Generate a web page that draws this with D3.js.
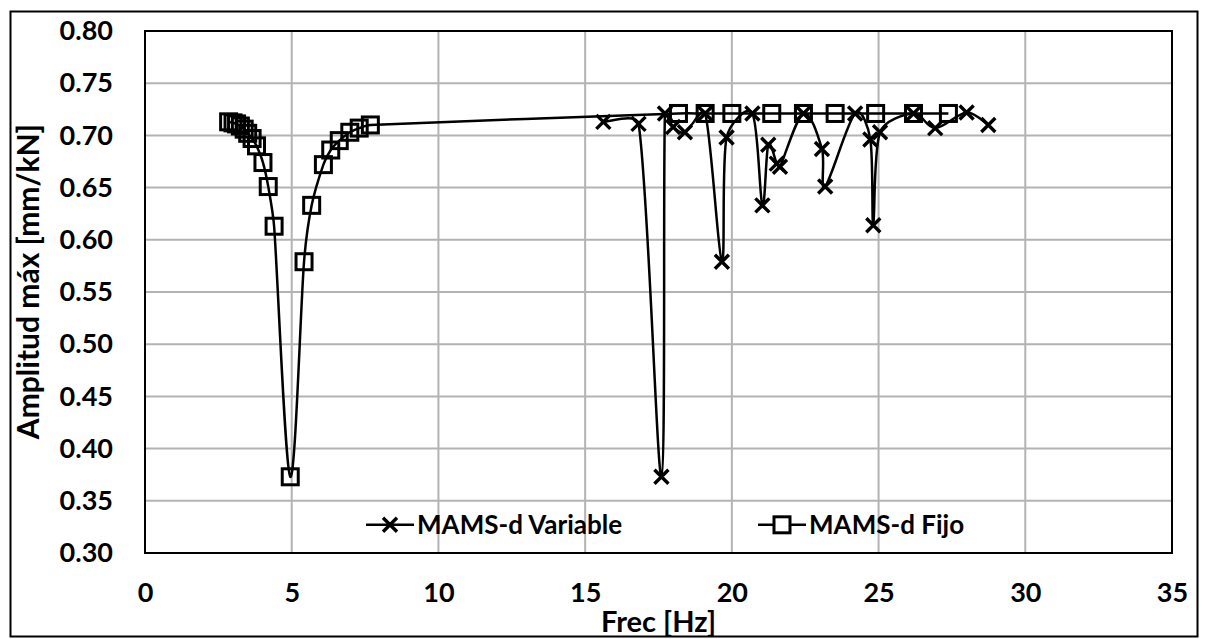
<!DOCTYPE html>
<html>
<head>
<meta charset="utf-8">
<script src="https://cdn.jsdelivr.net/npm/d3@7"></script>
<style>
  body { margin: 0; background: #fff; }
  text { font-family: Lato, "Open Sans", sans-serif; font-weight: bold; fill: #000; }
</style>
</head>
<body>
<div id="chart"></div>
<script>
// values
var fijoFrec = [2.85, 3.0, 3.12, 3.25, 3.38, 3.5, 3.65, 3.8, 4.02, 4.2, 4.4, 4.95, 5.42, 5.68, 6.08, 6.33, 6.62, 6.98, 7.3, 7.68,
                18.18, 19.09, 20.0, 21.36, 22.44, 23.52, 24.9, 26.19, 27.38];
var fijoAmp = [0.713, 0.712, 0.711, 0.709, 0.706, 0.702, 0.697, 0.690, 0.674, 0.651, 0.613, 0.373, 0.579, 0.633, 0.672, 0.686, 0.695, 0.703, 0.707, 0.710,
               0.721, 0.721, 0.721, 0.721, 0.721, 0.721, 0.721, 0.721, 0.721];

var varFrec = [15.62, 16.82, 17.60, 17.72, 18.0, 18.4, 19.09, 19.66, 19.82, 20.7, 21.04, 21.24, 21.53, 21.64, 22.44, 23.07, 23.18, 24.2,
               24.72, 24.82, 25.05, 26.19, 26.93, 28.0, 28.74];
var varAmp = [0.713, 0.711, 0.373, 0.721, 0.708, 0.703, 0.721, 0.579, 0.698, 0.721, 0.633, 0.691, 0.673, 0.670, 0.721, 0.687, 0.651, 0.721,
              0.696, 0.614, 0.703, 0.721, 0.707, 0.722, 0.710];

var xTicks = [0, 5, 10, 15, 20, 25, 30, 35];
var yTicks = [0.30, 0.35, 0.40, 0.45, 0.50, 0.55, 0.60, 0.65, 0.70, 0.75, 0.80];
var seriesNames = ["MAMS-d Variable", "MAMS-d Fijo"];

var W = 1208, H = 639;
var margin = {top: 31, right: 36, bottom: 86, left: 145};

// spreadsheet-like smoothing: bezier with tangent (next - prev)/6,
// control arm capped to a third of the segment so steep dips stay sharp
function curveSmooth(context) {
    var pts;
    function cap(t, len) {
        var m = Math.hypot(t[0], t[1]);
        var lim = len / 3;
        if (m > lim && m > 0) return [t[0] * lim / m, t[1] * lim / m];
        return t;
    }
    return {
        areaStart: function() {},
        areaEnd: function() {},
        lineStart: function() { pts = []; },
        point: function(px, py) { pts.push([+px, +py]); },
        lineEnd: function() {
            var n = pts.length;
            if (!n) return;
            context.moveTo(pts[0][0], pts[0][1]);
            var tan = pts.map(function(p, i) {
                var a = pts[Math.max(i - 1, 0)], b = pts[Math.min(i + 1, n - 1)];
                return [(b[0] - a[0]) / 6, (b[1] - a[1]) / 6];
            });
            for (var i = 0; i < n - 1; i++) {
                var p = pts[i], q = pts[i + 1];
                var len = Math.hypot(q[0] - p[0], q[1] - p[1]);
                var t1 = cap(tan[i], len), t2 = cap(tan[i + 1], len);
                context.bezierCurveTo(p[0] + t1[0], p[1] + t1[1], q[0] - t2[0], q[1] - t2[1], q[0], q[1]);
            }
        }
    };
}

var svg = d3.select("#chart").append("svg")
    .attr("width", W)
    .attr("height", H);

svg.append("rect")
    .attr("width", W).attr("height", H)
    .attr("fill", "#fff");

// outer chart border
svg.append("rect")
    .attr("x", 10.5).attr("y", 11.5)
    .attr("width", W - 21).attr("height", H - 14)
    .attr("fill", "none")
    .attr("stroke", "#000")
    .attr("stroke-width", 2);

var x = d3.scaleLinear().domain([0, 35]).range([margin.left, W - margin.right]);
var y = d3.scaleLinear().domain([0.30, 0.80]).range([H - margin.bottom, margin.top]);

// gridlines
svg.append("g")
    .selectAll("line.v")
    .data(xTicks.slice(1, -1))
    .enter().append("line")
    .attr("x1", d => x(d)).attr("x2", d => x(d))
    .attr("y1", y(0.30)).attr("y2", y(0.80))
    .attr("stroke", "#b3b3b3").attr("stroke-width", 2);

svg.append("g")
    .selectAll("line.h")
    .data(yTicks.slice(1, -1))
    .enter().append("line")
    .attr("x1", x(0)).attr("x2", x(35))
    .attr("y1", d => y(d)).attr("y2", d => y(d))
    .attr("stroke", "#b3b3b3").attr("stroke-width", 2);

// axes (labels only, no tick marks)
var xAxis = d3.axisBottom(x).tickValues(xTicks).tickSize(0).tickPadding(30).tickFormat(d3.format("d"));
var yAxis = d3.axisLeft(y).tickValues(yTicks).tickSize(0).tickPadding(32).tickFormat(d3.format(".2f"));

svg.append("g")
    .attr("transform", "translate(0," + y(0.30) + ")")
    .call(xAxis)
    .call(g => g.select(".domain").remove())
    .selectAll("text")
    .style("font-size", "27px");

svg.append("g")
    .attr("transform", "translate(" + x(0) + ",0)")
    .call(yAxis)
    .call(g => g.select(".domain").remove())
    .selectAll("text")
    .style("font-size", "27px");

// plot frame
svg.append("rect")
    .attr("x", x(0)).attr("y", y(0.80))
    .attr("width", x(35) - x(0)).attr("height", y(0.30) - y(0.80))
    .attr("fill", "none")
    .attr("stroke", "#000")
    .attr("stroke-width", 2);

// axis titles
svg.append("text")
    .attr("x", (x(0) + x(35)) / 2)
    .attr("y", 632)
    .attr("text-anchor", "middle")
    .style("font-size", "29px")
    .text("Frec [Hz]");

svg.append("text")
    .attr("transform", "translate(39," + (y(0.56)) + ") rotate(-90)")
    .attr("text-anchor", "middle")
    .style("font-size", "30px")
    .text("Amplitud máx [mm/kN]");

// series
var fijo = fijoFrec.map((f, i) => [f, fijoAmp[i]]);
var variable = varFrec.map((f, i) => [f, varAmp[i]]);

var line = d3.line()
    .x(d => x(d[0]))
    .y(d => y(d[1]))
    .curve(curveSmooth);

svg.append("path")
    .datum(variable)
    .attr("d", line)
    .attr("fill", "none")
    .attr("stroke", "#000")
    .attr("stroke-width", 2.5);

svg.append("path")
    .datum(fijo)
    .attr("d", line)
    .attr("fill", "none")
    .attr("stroke", "#000")
    .attr("stroke-width", 2.5);

var crossPath = function(cx, cy, r) {
    return "M" + (cx - r) + "," + (cy - r) + "L" + (cx + r) + "," + (cy + r) +
           "M" + (cx - r) + "," + (cy + r) + "L" + (cx + r) + "," + (cy - r);
};

svg.append("g")
    .selectAll("path")
    .data(variable)
    .enter().append("path")
    .attr("d", d => crossPath(x(d[0]), y(d[1]), 7))
    .attr("stroke", "#000")
    .attr("stroke-width", 3.4)
    .attr("fill", "none");

svg.append("g")
    .selectAll("rect")
    .data(fijo)
    .enter().append("rect")
    .attr("x", d => x(d[0]) - 8)
    .attr("y", d => y(d[1]) - 8)
    .attr("width", 16).attr("height", 16)
    .attr("fill", "none")
    .attr("stroke", "#000")
    .attr("stroke-width", 3);

// legend
var legY = y(0.327);
var legend = svg.append("g");
var legX = [366, 758];

legend.selectAll("line")
    .data(seriesNames)
    .enter().append("line")
    .attr("x1", (d, i) => legX[i]).attr("x2", (d, i) => legX[i] + 48)
    .attr("y1", legY).attr("y2", legY)
    .attr("stroke", "#000").attr("stroke-width", 2.5);

legend.append("path")
    .attr("d", crossPath(legX[0] + 24, legY, 7))
    .attr("stroke", "#000").attr("stroke-width", 3.4);

legend.append("rect")
    .attr("x", legX[1] + 24 - 8).attr("y", legY - 8)
    .attr("width", 16).attr("height", 16)
    .attr("fill", "#fff")
    .attr("stroke", "#000").attr("stroke-width", 3);

legend.selectAll("text")
    .data(seriesNames)
    .enter().append("text")
    .attr("x", (d, i) => legX[i] + 51)
    .attr("y", legY)
    .attr("dy", "0.35em")
    .style("font-size", "26px")
    .text(d => d);
</script>
</body>
</html>
